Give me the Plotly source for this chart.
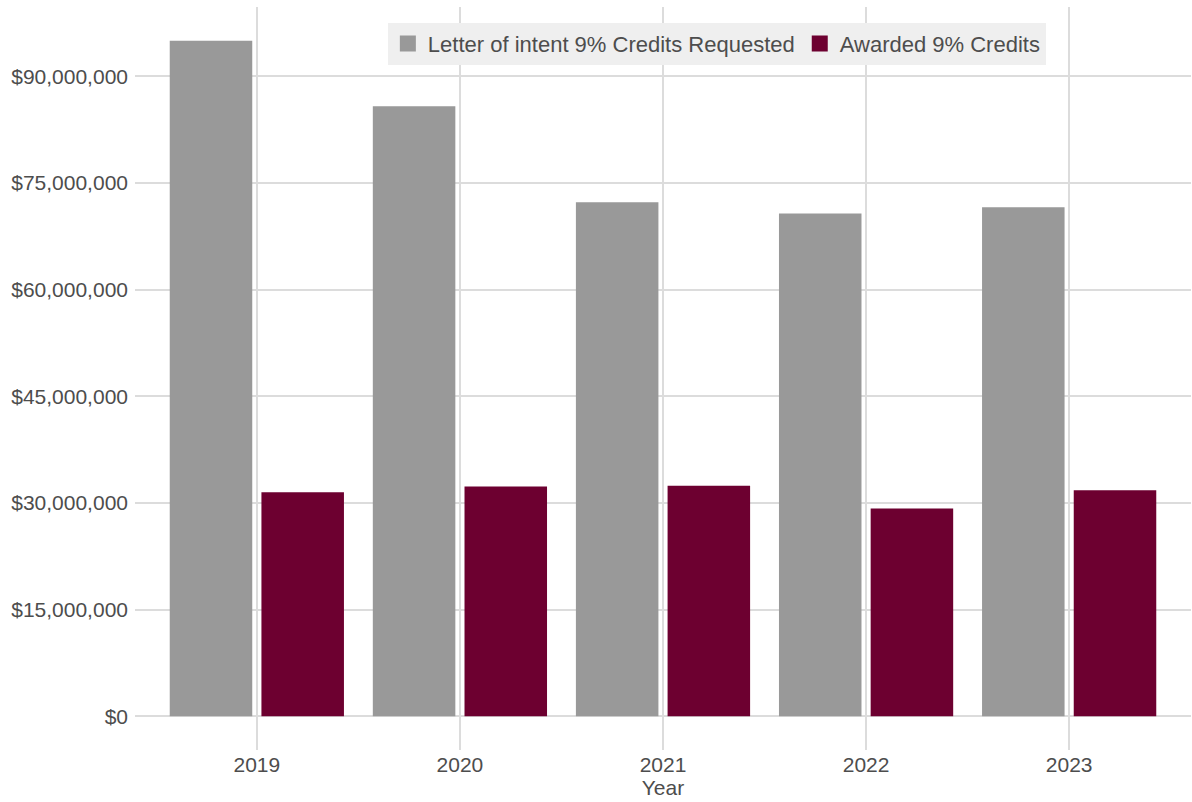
import plotly.graph_objects as go

# Yearly 9% housing credit totals (USD)
years = ["2019", "2020", "2021", "2022", "2023"]
requested = [95_000_000, 85_800_000, 72_300_000, 70_700_000, 71_600_000]
awarded = [31_500_000, 32_300_000, 32_400_000, 29_200_000, 31_800_000]

series_names = ["Letter of intent 9% Credits Requested", "Awarded 9% Credits"]
series_colors = ["#999999", "#6D0030"]

y_ticks = [0, 15_000_000, 30_000_000, 45_000_000, 60_000_000, 75_000_000, 90_000_000]
y_tick_labels = [f"${v:,}" for v in y_ticks]

TEXT = "#4D4D4D"
GRID = "#DCDCDC"
FONT = "Arial, Liberation Sans, sans-serif"

fig = go.Figure()

for name, vals, color in zip(series_names, [requested, awarded], series_colors):
    fig.add_trace(go.Bar(
        x=years, y=vals, name=name, marker=dict(color=color, line=dict(width=0)),
        showlegend=False,
    ))

# Larger square legend keys
for name, color in zip(series_names, series_colors):
    fig.add_trace(go.Scatter(
        x=[None], y=[None], mode="markers", name=name,
        marker=dict(symbol="square", size=22, color=color),
    ))

fig.update_layout(
    width=1192, height=802,
    margin=dict(l=135, r=1, t=7, b=52),
    paper_bgcolor="white", plot_bgcolor="white",
    font=dict(family=FONT, color=TEXT, size=21),
    barmode="group", bargap=0.097, bargroupgap=0.1,
    legend=dict(
        orientation="h", x=0.551, xanchor="center", y=0.979, yanchor="top",
        bgcolor="#EFEFEF", font=dict(size=22, color=TEXT),
        itemwidth=30, itemsizing="trace",
    ),
    xaxis=dict(
        range=[-0.6, 4.6], showgrid=True, gridcolor=GRID, gridwidth=1.5,
        ticks="", tickfont=dict(size=21, color=TEXT), zeroline=False,
        showline=False,
        title=dict(text="Year", font=dict(size=21, color=TEXT), standoff=4),
    ),
    yaxis=dict(
        range=[-4_750_000, 99_750_000], tickmode="array",
        tickvals=y_ticks, ticktext=y_tick_labels,
        showgrid=True, gridcolor=GRID, gridwidth=1.5,
        zeroline=False, ticks="", showline=False,
        tickfont=dict(size=21, color=TEXT), ticklabelstandoff=6,
    ),
)

fig.write_html("out.html")
